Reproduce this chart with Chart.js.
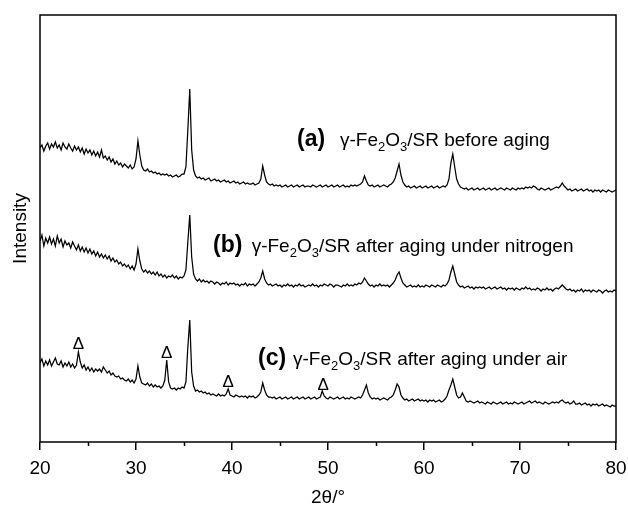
<!DOCTYPE html>
<html>
<head>
<meta charset="utf-8">
<script src="https://cdn.jsdelivr.net/npm/chart.js@4.4.1/dist/chart.umd.min.js"></script>
<style>
html,body{margin:0;padding:0;background:#fff;}
#wrap{width:628px;height:510px;}
</style>
</head>
<body>
<div id="wrap"><canvas id="c" width="628" height="510"></canvas></div>
<script>
// 2θ grid (degrees), one reading every 0.2°
const angles = Array.from({length: 301}, (_, i) => Math.round((20 + i * 0.2) * 10) / 10);

// (a) γ-Fe2O3/SR before aging  (arbitrary intensity)
const traceA = [
294,297,291,296,299, 293,298,295,300,294, 297,292,299,295,293, 298,294,291,296,292,
295,290,294,288,293, 289,292,287,291,286, 290,285,292,284,286, 282,285,280,283,278,
281,277,279,275,278, 276,274,277,273,275, 283,301,287,276,272, 271,273,270,271,269,
270,268,269,267,268, 267,268,266,267,265, 266,267,265,266,268, 268,275,312,353,292,
272,266,264,265,263, 264,262,263,264,261, 262,263,261,262,260, 261,262,260,261,259,
260,261,259,260,258, 259,260,258,259,258, 258,259,257,258,259, 263,276,267,260,258,
257,258,256,257,256, 257,255,256,257,255, 256,257,255,256,257, 255,256,257,255,256,
256,255,257,256,255, 256,257,255,256,257, 255,256,257,255,256, 257,255,256,257,255,
256,255,257,256,257, 256,257,258,260,266, 261,257,256,257,255, 256,257,255,256,257,
256,255,257,258,260, 264,271,278,267,260, 257,255,256,254,255, 256,254,255,256,254,
255,256,254,255,256, 254,255,256,254,255, 256,255,257,263,279, 288,275,263,258,255,
254,253,254,252,253, 254,252,253,254,252, 253,254,252,253,254, 252,253,254,252,253,
254,253,252,254,253, 252,254,253,252,254, 253,254,253,255,254, 255,254,256,255,253,
252,254,253,252,253, 254,252,253,254,255, 254,256,259,256,254, 252,253,251,252,253,
251,252,253,251,252, 253,251,252,250,252, 251,252,250,252,251, 250,252,251,250,251,
252];

// (b) γ-Fe2O3/SR after aging under nitrogen
const traceB = [
201,207,196,204,199, 205,198,203,196,206, 199,203,195,201,197, 199,194,200,196,192,
197,191,195,190,194, 189,193,188,191,186, 190,185,188,184,187, 183,186,181,184,180,
182,178,180,176,178, 175,177,173,176,172, 178,193,181,173,170, 172,169,171,168,170,
167,170,166,168,165, 167,164,166,165,167, 164,166,163,165,164, 166,172,200,227,185,
168,163,161,163,160, 162,160,161,159,161, 160,158,160,159,157, 159,158,160,157,159,
158,159,157,158,156, 158,157,159,156,158, 157,158,156,158,160, 164,171,163,159,157,
158,156,157,158,156, 157,155,157,156,158, 156,157,155,157,156, 158,156,157,155,156,
157,156,158,156,157, 155,157,156,158,157, 156,158,157,155,157, 157,156,155,157,156,
158,156,157,156,158, 157,159,158,160,164, 161,158,156,157,155, 157,156,158,156,157,
156,157,155,157,159, 162,167,170,164,159, 157,155,156,157,155, 156,155,157,155,156,
155,157,156,155,157, 156,155,157,156,155, 157,156,158,162,170, 176,168,160,157,155,
156,154,155,156,154, 155,153,155,154,155, 154,155,153,154,155, 153,154,155,153,154,
155,153,154,152,154, 153,154,152,154,153, 152,154,153,155,153, 154,152,153,152,154,
153,151,153,152,154, 152,153,151,153,154, 153,155,157,155,153, 152,153,151,152,150,
152,151,153,150,152, 151,152,150,152,151, 150,152,151,149,151, 152,150,151,150,152,
151];

// (c) γ-Fe2O3/SR after aging under air
const traceC = [
79,83,76,81,77, 82,76,80,84,78, 77,81,75,79,76, 80,75,78,74,77,
90,80,74,77,72, 75,71,74,70,73, 71,73,70,75,72, 69,71,67,69,66,
65,66,63,64,62, 61,63,60,62,59, 63,76,65,59,58, 57,59,56,58,55,
57,55,56,54,56, 62,82,60,54,53, 54,52,54,53,55, 54,60,95,122,70,
56,51,52,50,51, 49,50,48,49,47, 48,47,46,48,46, 47,46,48,53,47,
46,45,47,46,45, 46,45,46,44,46, 45,46,44,45,47, 50,59,52,47,45,
45,44,45,43,44, 45,43,44,45,43, 44,45,43,44,45, 43,44,45,43,44,
45,43,44,45,43, 44,45,51,46,44, 43,45,44,43,44, 45,43,44,45,43,
44,43,45,44,43, 44,45,44,47,52, 57,49,45,43,44, 43,44,42,43,44,
43,42,44,45,47, 52,58,55,47,44, 42,43,41,42,43, 41,42,43,41,42,
41,42,40,42,41, 42,40,41,42,40, 41,43,46,52,57, 63,55,47,44,45,
49,45,41,40,41, 40,39,40,41,39, 40,39,38,40,39, 38,40,39,38,39,
40,38,39,40,38, 39,38,40,39,38, 39,40,38,39,40, 41,39,40,41,39,
40,39,38,40,39, 38,39,40,39,40, 39,41,42,40,39, 40,38,39,41,38,
38,39,37,38,39, 37,38,36,38,37, 38,36,37,38,36, 37,36,35,37,36,
36];

const xTicks = [20, 30, 40, 50, 60, 70, 80];
const seriesTags = ['(a)', '(b)', '(c)'];
const seriesNames = [
  ['γ-Fe', '2', 'O', '3', '/SR before aging'],
  ['γ-Fe', '2', 'O', '3', '/SR after aging under nitrogen'],
  ['γ-Fe', '2', 'O', '3', '/SR after aging under air']
];
// phase marker (Δ) peak angles on trace (c)
const deltaAngles = [24.0, 33.2, 39.6, 49.5];

// label placement (data coordinates) — layout only
const labelPos = [
  {tagX: 46.77, textX: 51.25, y: 296},
  {tagX: 38.02, textX: 42.05, y: 190},
  {tagX: 42.71, textX: 46.35, y: 77}
];
const deltaY = [93, 84, 55, 52];

const FONT = '"Liberation Sans", Arial, Helvetica, sans-serif';
Chart.defaults.font.family = FONT;
Chart.defaults.color = '#000';

const toXY = arr => angles.map((a, i) => ({x: a, y: arr[i]}));

const annot = {
  id: 'annot',
  afterDatasetsDraw(chart) {
    const {ctx, chartArea: ca, scales: {x, y}} = chart;
    ctx.save();
    // frame
    ctx.strokeStyle = '#000';
    ctx.lineWidth = 1.5;
    ctx.strokeRect(ca.left, ca.top, ca.right - ca.left, ca.bottom - ca.top);
    // minor ticks
    for (let v = 25; v < 80; v += 10) {
      const px = Math.round(x.getPixelForValue(v)) + 0.5;
      ctx.beginPath();
      ctx.moveTo(px, ca.bottom);
      ctx.lineTo(px, ca.bottom + 4);
      ctx.stroke();
    }
    // labels
    ctx.fillStyle = '#000';
    ctx.textBaseline = 'alphabetic';
    ctx.textAlign = 'left';
    labelPos.forEach((p, k) => {
      const by = y.getPixelForValue(p.y);
      ctx.font = 'bold 23px ' + FONT;
      ctx.fillText(seriesTags[k], x.getPixelForValue(p.tagX), by);
      let cx = x.getPixelForValue(p.textX);
      seriesNames[k].forEach((part, j) => {
        const sub = (j === 1 || j === 3);
        ctx.font = (sub ? '13px ' : '19px ') + FONT;
        ctx.fillText(part, cx, by + (sub ? 5 : 0));
        cx += ctx.measureText(part).width;
      });
    });
    // delta markers
    ctx.font = '17px ' + FONT;
    ctx.textAlign = 'center';
    deltaAngles.forEach((a, k) => {
      ctx.fillText('Δ', x.getPixelForValue(a), y.getPixelForValue(deltaY[k]));
    });
    ctx.restore();
  }
};

const lineStyle = {borderColor: '#000', borderWidth: 1.25, pointRadius: 0, tension: 0, fill: false};

new Chart(document.getElementById('c'), {
  type: 'line',
  data: {
    datasets: [
      Object.assign({label: 'a', data: toXY(traceA)}, lineStyle),
      Object.assign({label: 'b', data: toXY(traceB)}, lineStyle),
      Object.assign({label: 'c', data: toXY(traceC)}, lineStyle)
    ]
  },
  options: {
    responsive: false,
    animation: false,
    layout: {padding: {top: 15, right: 12, left: 0, bottom: 0}},
    plugins: {legend: {display: false}, tooltip: {enabled: false}},
    scales: {
      x: {
        type: 'linear', min: 20, max: 80,
        afterBuildTicks: s => { s.ticks = xTicks.map(v => ({value: v})); },
        afterFit: s => { s.height = 68; s.paddingRight = 0; s.paddingLeft = 0; },
        ticks: {font: {size: 19}, color: '#000', padding: 7, maxRotation: 0},
        grid: {display: true, drawOnChartArea: false, drawTicks: true, tickLength: 8, color: '#000', lineWidth: 1.5},
        border: {display: false},
        title: {display: true, text: '2θ/°', font: {size: 19}, color: '#000', padding: {top: 0, bottom: 1}}
      },
      y: {
        min: 0, max: 427,
        afterFit: s => { s.width = 40; },
        ticks: {display: false},
        grid: {display: false},
        border: {display: false},
        title: {display: true, text: 'Intensity', font: {size: 19}, color: '#000', padding: {top: 9, bottom: 0}}
      }
    }
  },
  plugins: [annot]
});
</script>
</body>
</html>
